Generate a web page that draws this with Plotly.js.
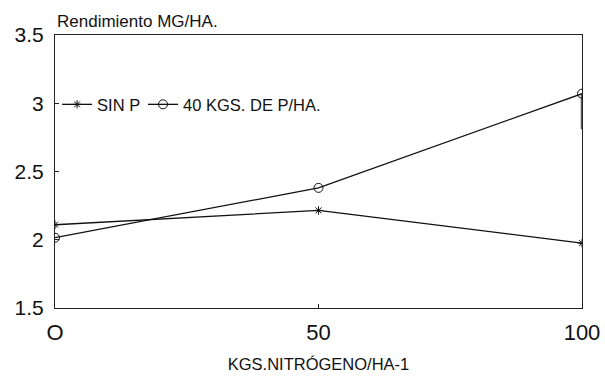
<!DOCTYPE html>
<html>
<head>
<meta charset="utf-8">
<script src="https://cdn.plot.ly/plotly-3.0.1.min.js"></script>
<style>html,body{margin:0;padding:0;background:#fff;}#chart{width:605px;height:377px;}</style>
</head>
<body>
<div id="chart"></div>
<script>
const nitrogen = [0, 50, 100];
const tickLabels = ['O', '50', '100'];
const sinP = [2.11, 2.215, 1.975];
const conP = [2.015, 2.38, 3.07];
const conPLowerBar = [0, 0, 0.26];
const seriesNames = ['SIN P', '40 KGS. DE P/HA.'];

const font = 'Liberation Sans, Arial, sans-serif';
const traces = [
  {x: nitrogen, y: sinP, name: seriesNames[0], mode: 'lines+markers', legend: 'legend',
   line: {color: '#111', width: 1.3},
   marker: {symbol: 'asterisk-open', size: 7, color: '#111', line: {color: '#111', width: 1}}},
  {x: nitrogen, y: conP, name: seriesNames[1], mode: 'lines+markers', legend: 'legend2',
   line: {color: '#111', width: 1.3},
   marker: {symbol: 'circle-open', size: 9, color: '#111', line: {color: '#111', width: 1}},
   error_y: {type: 'data', symmetric: false, array: [0, 0, 0], arrayminus: conPLowerBar,
             width: 0, thickness: 2.5, color: '#555'}}
];
const legendBase = {orientation: 'h', y: 0.745, xanchor: 'left', yanchor: 'middle',
  font: {size: 16.5, family: font, color: '#111'}, bgcolor: 'rgba(0,0,0,0)', itemwidth: 30};
const layout = {
  width: 605, height: 377,
  margin: {l: 55, r: 23, t: 35, b: 69},
  paper_bgcolor: '#fff', plot_bgcolor: '#fff',
  font: {family: font, color: '#111'},
  showlegend: true,
  legend: Object.assign({}, legendBase, {x: 0.004}),
  legend2: Object.assign({}, legendBase, {x: 0.167}),
  xaxis: {range: [0, 100], tickvals: nitrogen, ticktext: tickLabels,
          showgrid: false, zeroline: false, showline: true, mirror: true,
          linecolor: '#222', linewidth: 1, ticks: 'inside', ticklen: 4, tickcolor: '#222',
          tickfont: {size: 22, family: font, color: '#111'}, ticklabelstandoff: 5,
          title: {text: 'KGS.NITRÓGENO/HA-1', font: {size: 16.5, family: font, color: '#111'}, standoff: 14}},
  yaxis: {range: [1.5, 3.5], tickvals: [1.5, 2, 2.5, 3, 3.5],
          ticktext: ['1.5', '2', '2.5', '3', '3.5'],
          showgrid: false, zeroline: false, showline: true, mirror: true,
          linecolor: '#222', linewidth: 1, ticks: 'inside', ticklen: 4, tickcolor: '#222',
          tickfont: {size: 21, family: font, color: '#111'}, ticklabelstandoff: 6},
  annotations: [{text: 'Rendimiento MG/HA.', xref: 'paper', yref: 'paper', x: 0, y: 1,
                 xanchor: 'left', yanchor: 'bottom', yshift: 2, showarrow: false,
                 font: {size: 17, family: font, color: '#111'}}]
};
Plotly.newPlot('chart', traces, layout, {displayModeBar: false, staticPlot: true});
</script>
</body>
</html>
